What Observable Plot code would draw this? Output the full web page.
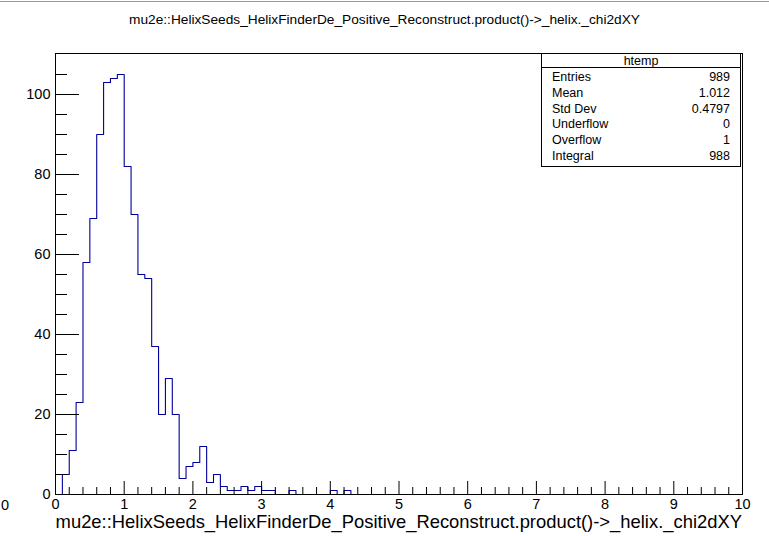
<!DOCTYPE html>
<html><head><meta charset="utf-8">
<script src="https://cdn.jsdelivr.net/npm/d3@7"></script>
<script src="https://cdn.jsdelivr.net/npm/@observablehq/plot@0.6"></script>
<style>
body{margin:0;background:#fff;font-family:"Liberation Sans",Arial,Helvetica,sans-serif;color:#000;}
#wrap{position:relative;width:769px;height:536px;overflow:hidden;background:#fff;}
#wrap svg{position:absolute;left:0;top:0;}
#topline{position:absolute;left:0;top:1px;width:769px;height:0;border-top:1px solid #999;}
#title{position:absolute;left:0;width:769px;top:11px;text-align:center;font-size:13.7px;line-height:17px;white-space:nowrap;}
#xtitle{position:absolute;right:27px;top:511px;font-size:18.4px;line-height:21px;white-space:nowrap;}
#lone0{position:absolute;left:1px;top:497px;font-size:14.5px;line-height:16px;}
#stats{position:absolute;left:541px;top:53px;width:198px;height:112px;border:1px solid #000;background:#fff;font-size:12.5px;}
#stats .hdr{position:absolute;left:0;top:0;width:100%;height:13px;border-bottom:1px solid #000;text-align:center;line-height:15px;}
#stats .row{position:absolute;left:10px;right:10px;height:15px;line-height:15px;}
#stats .row span.v{position:absolute;right:0;top:0;}
</style>
</head><body>
<div id="wrap">
  <div id="topline"></div>
  <div id="title"></div>
  <div id="lone0">0</div>
  <div id="xtitle"></div>
  <div id="stats"></div>
</div>
<script>
// ---- data ----
const varName = "mu2e::HelixSeeds_HelixFinderDe_Positive_Reconstruct.product()->_helix._chi2dXY";
const histName = "htemp";
const binLow = 0, binHigh = 10, nBins = 100;
// bin contents (bin width 0.1)
const counts = [
  0, 5, 11, 23, 58, 69, 90, 103, 104, 105,
  82, 70, 55, 54, 37, 20, 29, 20, 4, 7,
  8, 12, 3, 5, 2, 1, 1, 2, 1, 2,
  1, 1, 0, 0, 1, 0, 0, 0, 0, 0,
  1, 0, 1, 0, 0, 0, 0, 0, 0, 0,
  0, 0, 0, 0, 0, 0, 0, 0, 0, 0,
  0, 0, 0, 0, 0, 0, 0, 0, 0, 0,
  0, 0, 0, 0, 0, 0, 0, 0, 0, 0,
  0, 0, 0, 0, 0, 0, 0, 0, 0, 0,
  0, 0, 0, 0, 0, 0, 0, 0, 0, 0
];
const xTickLabels = [0, 1, 2, 3, 4, 5, 6, 7, 8, 9, 10];
const xMinorTicks = [0.2,0.4,0.6,0.8,1.2,1.4,1.6,1.8,2.2,2.4,2.6,2.8,3.2,3.4,3.6,3.8,4.2,4.4,4.6,4.8,5.2,5.4,5.6,5.8,6.2,6.4,6.6,6.8,7.2,7.4,7.6,7.8,8.2,8.4,8.6,8.8,9.2,9.4,9.6,9.8];
const yTickLabels = [0, 20, 40, 60, 80, 100];
const yMinorTicks = [5,10,15,25,30,35,45,50,55,65,70,75,85,90,95,105];
const yMax = 110.25;
const statsLabels = ["Entries", "Mean", "Std Dev", "Underflow", "Overflow", "Integral"];
const statsValues = ["989", "1.012", "0.4797", "0", "1", "988"];

// ---- layout ----
const W = 769, H = 536;
const mL = 55, mR = 27, mT = 53, mB = 42;
const frameW = W - mL - mR, frameH = H - mT - mB;
const font = '"Liberation Sans", Arial, Helvetica, sans-serif';

const bw = (binHigh - binLow) / nBins;
const pts = [{x: binLow, y: 0}];
counts.forEach((c, i) => pts.push({x: binLow + i * bw, y: c}));
pts.push({x: binHigh, y: counts[nBins - 1]});

const chart = Plot.plot({
  width: W, height: H,
  marginLeft: mL, marginRight: mR, marginTop: mT, marginBottom: mB,
  style: {fontFamily: font, fontSize: "14.5px", color: "#000", background: "transparent"},
  x: {domain: [binLow, binHigh]},
  y: {domain: [0, yMax]},
  marks: [
    Plot.line(pts, {x: "x", y: "y", curve: "step-after", stroke: "#000099", strokeWidth: 1.1}),
    Plot.tickX(xTickLabels, {x: d => d, insetTop: frameH - 13, stroke: "#000"}),
    Plot.tickX(xMinorTicks, {x: d => d, insetTop: frameH - 7, stroke: "#000"}),
    Plot.tickY(yTickLabels, {y: d => d, insetRight: frameW - 24, stroke: "#000"}),
    Plot.tickY(yMinorTicks, {y: d => d, insetRight: frameW - 12, stroke: "#000"}),
    Plot.axisX({ticks: xTickLabels, tickSize: 0, tickPadding: 4, label: null, fontSize: 14.5}),
    Plot.axisY({ticks: yTickLabels, tickSize: 0, tickPadding: 5, label: null, fontSize: 14.5}),
    Plot.frame({stroke: "#000"})
  ]
});
document.getElementById("wrap").insertBefore(chart, document.getElementById("topline"));

document.getElementById("title").textContent = varName;
document.getElementById("xtitle").textContent = varName;

const stats = document.getElementById("stats");
const hdr = document.createElement("div");
hdr.className = "hdr"; hdr.textContent = histName;
stats.appendChild(hdr);
statsLabels.forEach((lab, i) => {
  const r = document.createElement("div");
  r.className = "row";
  r.style.top = (16 + i * 15.8) + "px";
  r.textContent = lab;
  const v = document.createElement("span");
  v.className = "v"; v.textContent = statsValues[i];
  r.appendChild(v);
  stats.appendChild(r);
});
</script>
</body></html>
